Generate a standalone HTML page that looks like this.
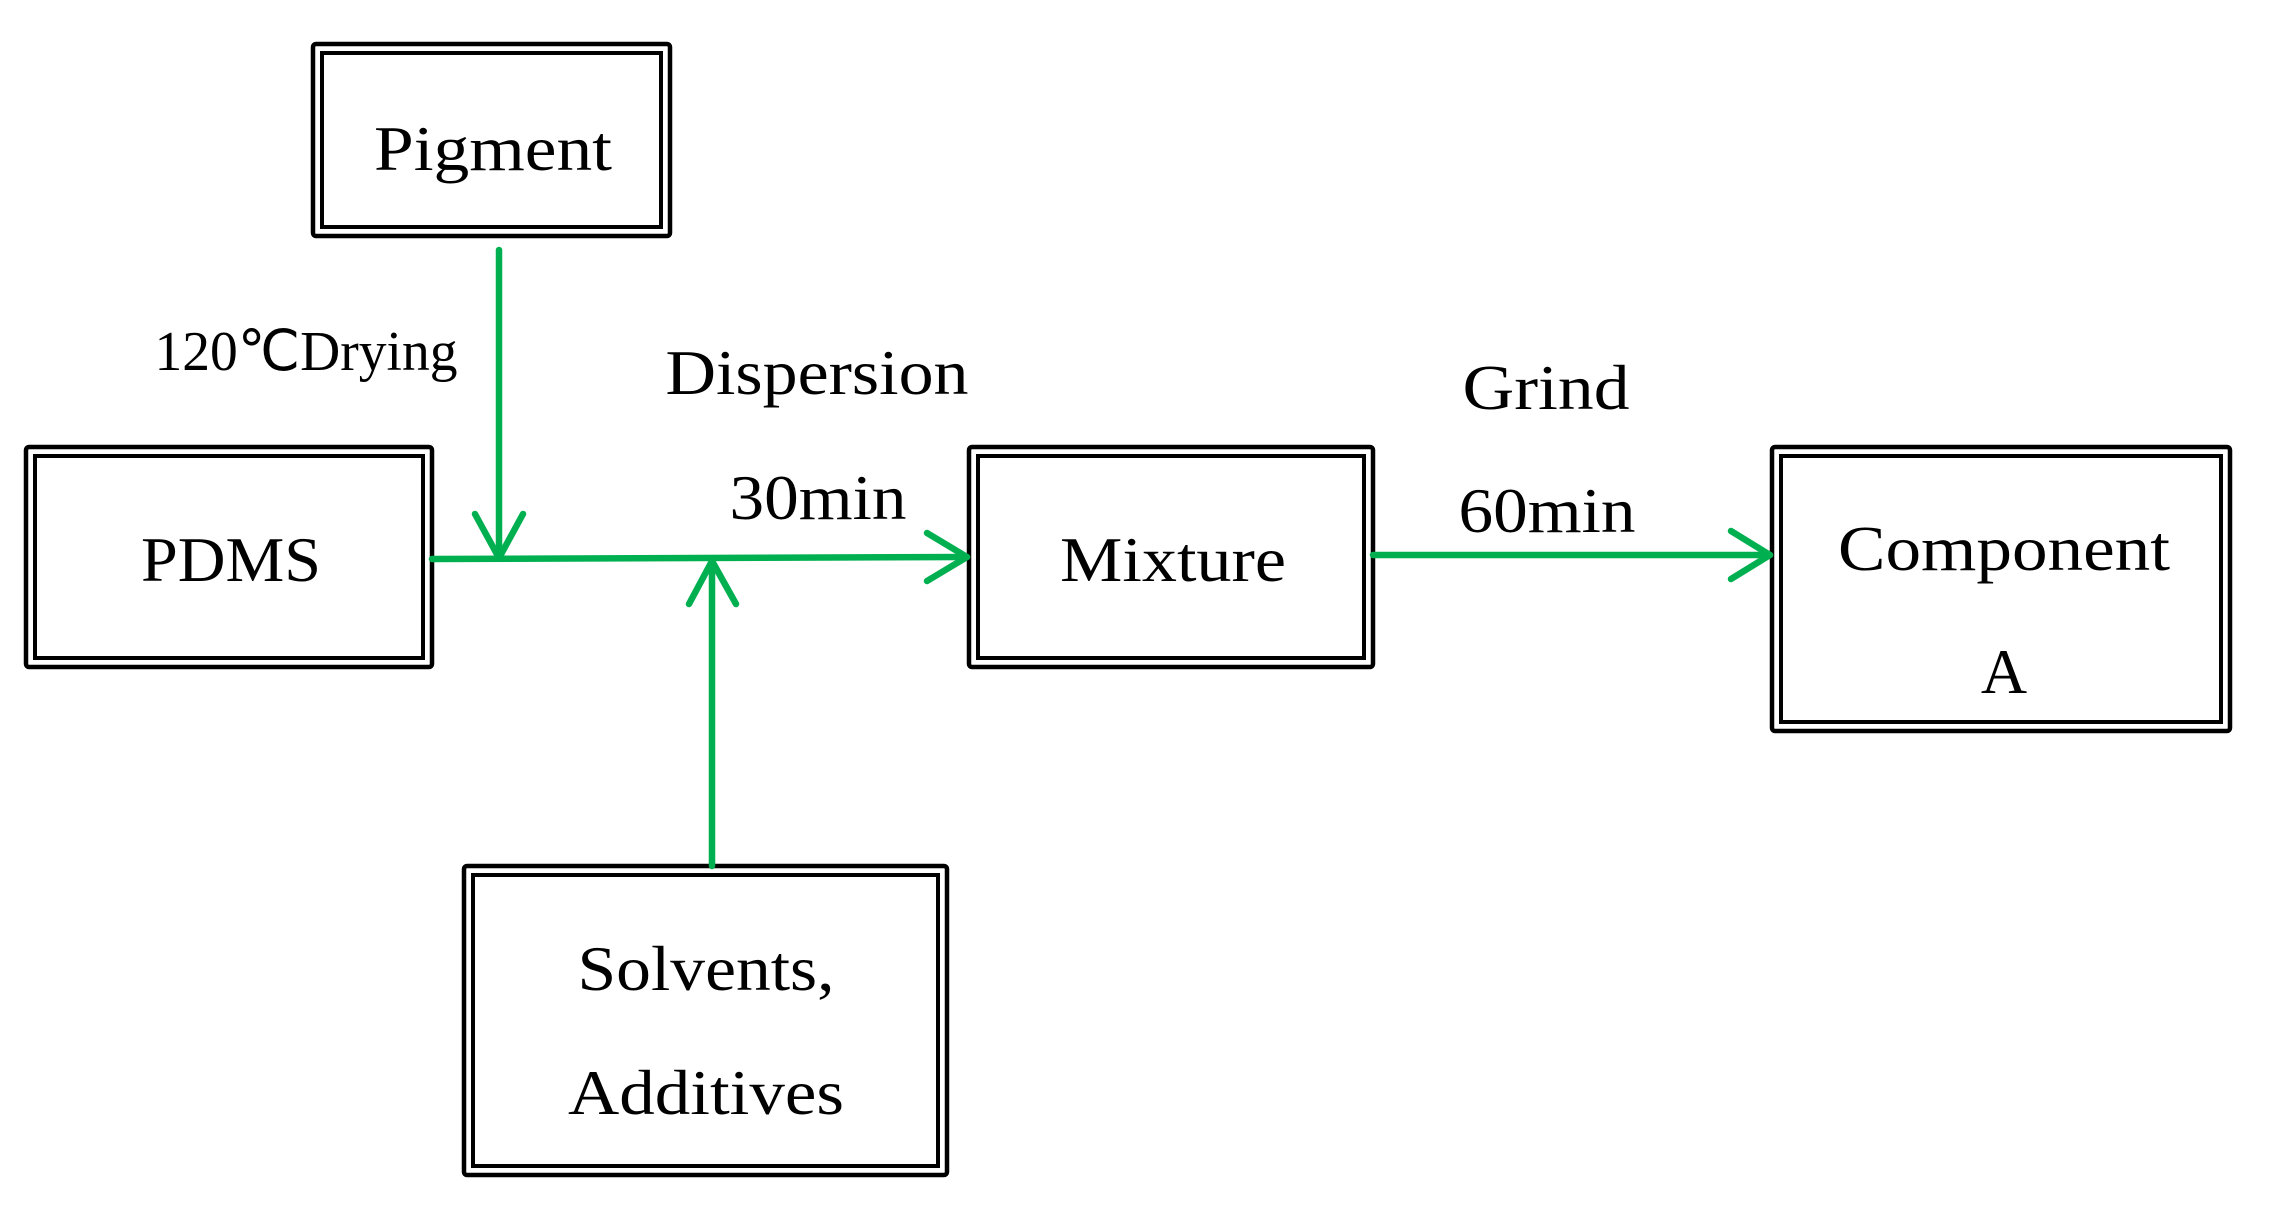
<!DOCTYPE html>
<html><head><meta charset="utf-8"><style>
html,body{margin:0;padding:0;background:#fff;}
svg{display:block;}
text{font-family:"Liberation Serif",serif;fill:#000;}
</style></head><body>
<svg width="2270" height="1214" viewBox="0 0 2270 1214" xmlns="http://www.w3.org/2000/svg">
<g fill="none" stroke="#000">
  <rect x="313" y="44" width="357" height="192" rx="3" stroke-width="4.5"/>
  <rect x="322" y="53" width="339" height="174" stroke-width="4"/>
  <rect x="26" y="447" width="406" height="220" rx="3" stroke-width="4.5"/>
  <rect x="35" y="456" width="388" height="202" stroke-width="4"/>
  <rect x="969" y="447" width="404" height="220" rx="3" stroke-width="4.5"/>
  <rect x="978" y="456" width="386" height="202" stroke-width="4"/>
  <rect x="1772" y="447" width="458" height="284" rx="3" stroke-width="4.5"/>
  <rect x="1781" y="456" width="440" height="266" stroke-width="4"/>
  <rect x="464" y="866" width="483" height="309" rx="3" stroke-width="4.5"/>
  <rect x="473" y="875" width="465" height="291" stroke-width="4"/>
</g>
<g fill="none" stroke="#00b050" stroke-width="6.5" stroke-linecap="round" stroke-linejoin="round">
  <line x1="432" y1="559" x2="967" y2="557"/>
  <line x1="499" y1="250" x2="499" y2="558"/>
  <polyline points="475,514 499,558 523,514"/>
  <line x1="712" y1="866" x2="712" y2="561"/>
  <polyline points="689,604 712,561 736,604"/>
  <polyline points="927,533 967,557 927,581"/>
  <line x1="1373" y1="555" x2="1770" y2="555"/>
  <polyline points="1731,531 1770,555 1731,579"/>
</g>
<g font-size="64" text-anchor="middle" lengthAdjust="spacingAndGlyphs">
  <text x="493" y="170" textLength="238" lengthAdjust="spacingAndGlyphs">Pigment</text>
  <text x="231" y="581" textLength="180" lengthAdjust="spacingAndGlyphs">PDMS</text>
  <text x="1173" y="581" textLength="226" lengthAdjust="spacingAndGlyphs">Mixture</text>
  <text x="2004" y="570" textLength="332" lengthAdjust="spacingAndGlyphs">Component</text>
  <text x="2004" y="693">A</text>
  <text x="706" y="990" textLength="257" lengthAdjust="spacingAndGlyphs">Solvents,</text>
  <text x="706" y="1114" textLength="276" lengthAdjust="spacingAndGlyphs">Additives</text>
  <text x="817" y="394" textLength="303" lengthAdjust="spacingAndGlyphs">Dispersion</text>
  <text x="818" y="519" textLength="177" lengthAdjust="spacingAndGlyphs">30min</text>
  <text x="1546" y="409" textLength="167" lengthAdjust="spacingAndGlyphs">Grind</text>
  <text x="1547" y="532" textLength="177" lengthAdjust="spacingAndGlyphs">60min</text>
  <text x="306" y="370" font-size="56" textLength="303" lengthAdjust="spacingAndGlyphs">120℃Drying</text>
</g>
</svg>
</body></html>
